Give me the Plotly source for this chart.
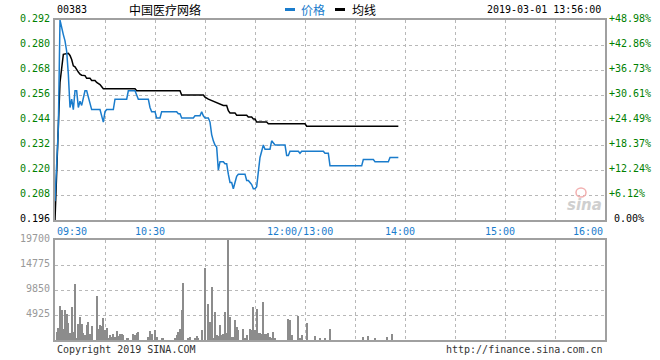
import plotly.graph_objects as go

# ---------------- data (minutes after 09:30, lunch break removed) ----------------
price_min = [0, 1, 2, 3, 4, 5, 6, 7, 8, 9, 10, 11, 12, 13, 14, 15, 16, 17, 18, 19, 20, 21, 22, 27,
             28, 29, 30, 31, 35, 36, 43, 44, 48, 49, 50, 56, 57, 58, 60, 61, 63, 64, 73, 74, 75,
             76, 83, 84, 87, 88, 89, 90, 92, 93, 94, 95, 96, 97, 98, 99, 101, 102, 103, 104, 105,
             106, 107, 108, 109, 110, 114, 115, 116, 117, 118, 119, 120, 121, 122, 123, 124, 125,
             126, 129, 130, 131, 132, 138, 139, 140, 141, 146, 147, 148, 161, 162, 164, 165, 184,
             185, 191, 192, 200, 201, 206]
price_val = [0.205, 0.222, 0.240, 0.292, 0.288, 0.285, 0.282, 0.277, 0.266, 0.250, 0.254, 0.249,
             0.258, 0.258, 0.250, 0.253, 0.251, 0.254, 0.258, 0.258, 0.255, 0.251, 0.249, 0.249,
             0.246, 0.243, 0.248, 0.249, 0.249, 0.254, 0.254, 0.258, 0.258, 0.256, 0.254, 0.254,
             0.250, 0.248, 0.248, 0.245, 0.245, 0.248, 0.248, 0.247, 0.247, 0.245, 0.245, 0.246,
             0.246, 0.248, 0.246, 0.245, 0.245, 0.243, 0.237, 0.234, 0.232, 0.231, 0.220, 0.224,
             0.224, 0.223, 0.223, 0.218, 0.214, 0.214, 0.211, 0.214, 0.217, 0.218, 0.218, 0.215,
             0.215, 0.214, 0.213, 0.211, 0.211, 0.212, 0.220, 0.226, 0.229, 0.232, 0.230, 0.230,
             0.234, 0.233, 0.232, 0.232, 0.227, 0.227, 0.229, 0.229, 0.228, 0.229, 0.229, 0.228,
             0.228, 0.222, 0.222, 0.225, 0.225, 0.224, 0.224, 0.226, 0.226]

avg_min = [0, 1, 2, 3, 4, 5, 8, 9, 10, 11, 12, 13, 14, 15, 16, 18, 19, 21, 22, 24, 25, 27, 28, 29,
           48, 49, 75, 76, 89, 90, 92, 95, 98, 101, 103, 104, 105, 108, 109, 115, 116, 118, 119,
           120, 121, 127, 128, 150, 151, 206]
avg_val = [0.196, 0.222, 0.241, 0.262, 0.270, 0.2755, 0.276, 0.275, 0.273, 0.270, 0.2695, 0.268,
           0.267, 0.266, 0.2655, 0.2653, 0.264, 0.264, 0.263, 0.263, 0.262, 0.261, 0.260, 0.259,
           0.259, 0.258, 0.258, 0.256, 0.256, 0.255, 0.254, 0.253, 0.2522, 0.251, 0.251, 0.2485,
           0.2474, 0.2474, 0.2463, 0.2463, 0.2454, 0.2454, 0.2445, 0.2445, 0.243, 0.243, 0.2422,
           0.2422, 0.241, 0.241]

vol_min = [1, 2, 3, 4, 5, 6, 7, 8, 9, 10, 11, 12, 13, 14, 15, 16, 17, 18, 19, 20, 21, 22, 25, 26,
           27, 28, 29, 30, 31, 32, 33, 34, 35, 36, 37, 38, 39, 40, 41, 43, 44, 47, 48, 49, 50, 56,
           57, 58, 60, 61, 64, 65, 72, 73, 74, 75, 76, 77, 80, 81, 84, 85, 86, 88, 90, 92, 93, 94,
           95, 96, 97, 98, 99, 100, 101, 102, 103, 104, 105, 106, 107, 108, 109, 110, 113, 114,
           115, 117, 118, 119, 120, 121, 122, 123, 124, 125, 126, 127, 128, 129, 130, 131, 132,
           140, 141, 142, 146, 147, 148, 151, 156, 159, 162, 165, 185, 188, 192, 199, 202]
vol_val = [1640, 2430, 6700, 5900, 2170, 5900, 5120, 3400, 1450, 6500, 1640, 11030, 460, 3090,
           4530, 3090, 1310, 985, 2950, 3480, 1180, 2760, 8670, 2170, 2950, 2820, 4270, 1970,
           2300, 330, 985, 657, 1120, 657, 1770, 790, 1180, 1120, 985, 200, 200, 1180, 985, 1310,
           1580, 657, 1770, 1120, 1970, 657, 460, 260, 200, 985, 1640, 2170, 5900, 11300, 330,
           657, 330, 790, 330, 1970, 14250, 7090, 3610, 10500, 330, 5580, 985, 790, 2950, 985,
           1180, 5580, 1310, 19700, 4600, 525, 657, 3940, 2630, 1970, 2100, 460, 985, 2170, 1970,
           6570, 1970, 6170, 1450, 1450, 1180, 7550, 1120, 1180, 1450, 525, 460, 1580, 330, 4140,
           3940, 985, 4730, 460, 985, 3280, 790, 260, 460, 2170, 525, 790, 460, 525, 1180]

price_ticks = [0.196, 0.208, 0.220, 0.232, 0.244, 0.256, 0.268, 0.280, 0.292]
pct_labels = ["0.00%", "+6.12%", "+12.24%", "+18.37%", "+24.49%", "+30.61%", "+36.73%",
              "+42.86%", "+48.98%"]
vol_ticks = [0, 4925, 9850, 14775, 19700]
time_ticks = [0, 60, 150, 210, 270, 330]
time_labels = ["09:30", "10:30", "12:00/13:00", "14:00", "15:00", "16:00"]

code = "00383"
name = "中国医疗网络"
stamp = "2019-03-01 13:56:00"

# ---------------- styling ----------------
W, H = 660, 360
L, R = 55, 605
BLUE = "#1a7ccc"
GREEN = "#008000"
GRID = "#b8b8b8"
BORDER = "#a0a0a0"
MONO = "DejaVu Sans Mono"

def px(x):
    return x / W

def py(y):
    return 1 - y / H

fig = go.Figure()
fig.add_trace(go.Scatter(x=avg_min, y=avg_val, mode="lines", line=dict(color="black", width=1.5),
                         xaxis="x", yaxis="y", hoverinfo="skip"))
fig.add_trace(go.Scatter(x=price_min, y=price_val, mode="lines", line=dict(color=BLUE, width=1.5),
                         xaxis="x", yaxis="y", hoverinfo="skip"))
fig.add_trace(go.Bar(x=vol_min, y=vol_val, width=0.6, marker=dict(color="#8c8c8c", line=dict(width=0)),
                     xaxis="x2", yaxis="y2", hoverinfo="skip"))

axis_common = dict(showgrid=True, gridcolor=GRID, griddash="dot", gridwidth=1, showline=True,
                   mirror=True, linecolor=BORDER, linewidth=2, zeroline=False,
                   showticklabels=False, ticks="", fixedrange=True)

fig.update_layout(
    width=W, height=H, margin=dict(l=0, r=0, t=0, b=0),
    paper_bgcolor="white", plot_bgcolor="white", showlegend=False, bargap=0,
    xaxis=dict(domain=[px(L), px(R)], range=[0, 330], tickvals=list(range(0, 331, 30)),
               anchor="y", **axis_common),
    yaxis=dict(domain=[py(220), py(20)], range=[0.196, 0.292], tickvals=price_ticks,
               anchor="x", **axis_common),
    xaxis2=dict(domain=[px(L), px(R)], range=[0, 330], tickvals=list(range(0, 331, 30)),
                anchor="y2", **axis_common),
    yaxis2=dict(domain=[py(340), py(240)], range=[0, 19700], tickvals=vol_ticks,
                anchor="x2", **axis_common),
)

ann = []
font = lambda c, s=10: dict(family=MONO, size=s, color=c)
for i, t in enumerate(price_ticks):
    ann.append(dict(text=f"{t:.3f}", x=px(52), xref="paper", y=t, yref="y", xanchor="right",
                    yanchor="middle", yshift=2, showarrow=False,
                    font=font("black" if i == 0 else GREEN)))
    ann.append(dict(text=pct_labels[i], x=px(607), xref="paper", y=t, yref="y", xanchor="left",
                    yanchor="middle", yshift=2, xshift=(5 if i == 0 else 0), showarrow=False,
                    font=font("black" if i == 0 else GREEN)))
for v in vol_ticks[1:]:
    ann.append(dict(text=str(v), x=px(52), xref="paper", y=v, yref="y2", xanchor="right",
                    yanchor="middle", yshift=2, showarrow=False, font=font("#999999")))
for i, (t, lab) in enumerate(zip(time_ticks, time_labels)):
    if i == 0:
        xa, xs = "left", 0
    elif i == len(time_ticks) - 1:
        xa, xs = "right", 0
    else:
        xa, xs = "center", -5
    ann.append(dict(text=lab, x=t, xref="x", y=py(231), yref="paper", xanchor=xa, xshift=xs,
                    yanchor="middle", showarrow=False, font=font(BLUE)))

ann += [
    dict(text=code, x=px(55), y=py(9.5), xref="paper", yref="paper", xanchor="left",
         yanchor="middle", showarrow=False, font=font("black")),
    dict(text=name, x=px(165), y=py(9.5), xref="paper", yref="paper", xanchor="center",
         yanchor="middle", showarrow=False,
         font=dict(family="Noto Sans CJK SC", size=12, color="black")),
    dict(text="价格", x=px(299), y=py(9.5), xref="paper", yref="paper", xanchor="left",
         yanchor="middle", showarrow=False,
         font=dict(family="Noto Sans CJK SC", size=12, color=BLUE)),
    dict(text="均线", x=px(350), y=py(9.5), xref="paper", yref="paper", xanchor="left",
         yanchor="middle", showarrow=False,
         font=dict(family="Noto Sans CJK SC", size=12, color="black")),
    dict(text=stamp, x=px(603), y=py(9.5), xref="paper", yref="paper", xanchor="right",
         yanchor="middle", showarrow=False, font=font("black")),
    dict(text="Copyright 2019 SINA.COM", x=px(55), y=py(349), xref="paper", yref="paper",
         xanchor="left", yanchor="middle", showarrow=False, font=font("#333333")),
    dict(text="http://finance.sina.com.cn", x=px(605), y=py(349), xref="paper", yref="paper",
         xanchor="right", yanchor="middle", showarrow=False, font=font("#333333")),
    dict(text="<b><i>sina</i></b>", x=px(584), y=py(205), xref="paper", yref="paper",
         xanchor="center", yanchor="middle", showarrow=False,
         font=dict(family="DejaVu Sans", size=15, color="#cfcfcf")),
]
fig.update_layout(annotations=ann)

fig.update_layout(shapes=[
    dict(type="rect", xref="paper", yref="paper", x0=px(285), x1=px(295), y0=py(11), y1=py(8),
         fillcolor=BLUE, line=dict(width=0)),
    dict(type="rect", xref="paper", yref="paper", x0=px(335), x1=px(345), y0=py(11), y1=py(8),
         fillcolor="black", line=dict(width=0)),
    dict(type="circle", xref="paper", yref="paper", x0=px(576), x1=px(586), y0=py(197), y1=py(188),
         fillcolor="rgba(0,0,0,0)", line=dict(color="#f2b0b0", width=1.5)),
])

fig.write_html("out.html", config={"displayModeBar": False},
               post_script="document.body.style.margin='0';document.body.style.overflow='hidden';")
